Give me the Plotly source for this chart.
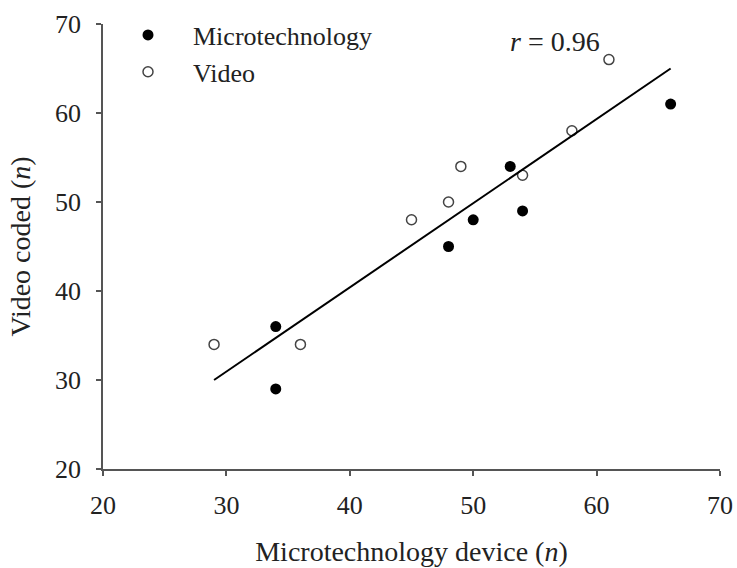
import plotly.graph_objects as go

# Data
micro_x = [34, 34, 48, 50, 53, 54, 66]
micro_y = [36, 29, 45, 48, 54, 49, 61]
video_x = [29, 36, 45, 48, 49, 54, 58, 61]
video_y = [34, 34, 48, 50, 54, 53, 58, 66]
fit_x = [29, 66]
fit_y = [30, 65]
tick_vals = [20, 30, 40, 50, 60, 70]

FONT = "Liberation Serif"
TXT = "#222222"

fig = go.Figure()
fig.add_trace(go.Scatter(
    x=micro_x, y=micro_y, mode="markers", name="Microtechnology",
    marker=dict(symbol="circle", size=11, color="black"),
))
fig.add_trace(go.Scatter(
    x=video_x, y=video_y, mode="markers", name="Video",
    marker=dict(symbol="circle-open", size=10, color="#444444", line=dict(width=1.5)),
))
fig.add_trace(go.Scatter(
    x=fit_x, y=fit_y, mode="lines", showlegend=False,
    line=dict(color="black", width=2),
))

fig.add_annotation(
    x=56.6, y=68.0, xref="x", yref="y", showarrow=False,
    text="<i>r</i> = 0.96", font=dict(family=FONT, size=28, color=TXT),
)

axis_common = dict(
    showgrid=False, zeroline=False, showline=True, linecolor="#555555", linewidth=1.5,
    ticks="outside", ticklen=5, tickwidth=1.5, tickcolor="#555555",
    tickfont=dict(family=FONT, size=26, color=TXT),
    tickvals=tick_vals, automargin=False,
)

fig.update_layout(
    width=737, height=568,
    margin=dict(l=103, r=17, t=24, b=99),
    plot_bgcolor="white", paper_bgcolor="white",
    xaxis=dict(range=[20, 70], ticklabelstandoff=7,
               title=dict(text="Microtechnology device (<i>n</i>)",
                          font=dict(family=FONT, size=28, color=TXT), standoff=22),
               **axis_common),
    yaxis=dict(range=[20, 70], ticklabelstandoff=10,
               title=dict(text="Video coded (<i>n</i>)",
                          font=dict(family=FONT, size=28, color=TXT), standoff=16),
               **axis_common),
    legend=dict(x=0.0, y=1.028, xanchor="left", yanchor="top",
                font=dict(family=FONT, size=26, color=TXT),
                bgcolor="rgba(0,0,0,0)", itemwidth=80),
    showlegend=True,
)

fig.write_html("out.html")
